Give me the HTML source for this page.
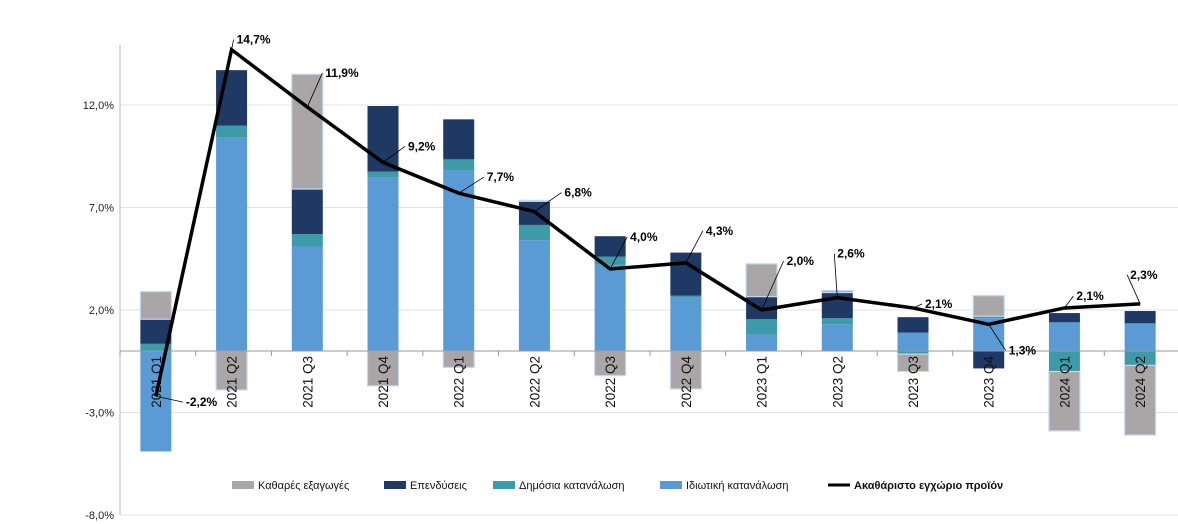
<!DOCTYPE html>
<html><head><meta charset="utf-8"><style>
body{margin:0;background:#fff;}
svg{display:block;font-family:"Liberation Sans","DejaVu Sans",sans-serif;}
</style></head><body>
<svg id="chart" width="1178" height="524" viewBox="0 0 1178 524" xmlns="http://www.w3.org/2000/svg">
<g id="grid"></g>
<g id="bars"></g>
<g id="axes"></g>
<g id="line"></g>
<g id="legend"></g>
</svg>
<script>
const categories=["2021 Q1","2021 Q2","2021 Q3","2021 Q4","2022 Q1","2022 Q2","2022 Q3","2022 Q4","2023 Q1","2023 Q2","2023 Q3","2023 Q4","2024 Q1","2024 Q2"];
const privateCons=[-4.9,10.4,5.1,8.45,8.8,5.4,4.2,2.6,0.8,1.3,0.9,1.6,1.4,1.35];
const publicCons=[0.35,0.6,0.6,0.3,0.55,0.75,0.4,0.1,0.75,0.3,-0.15,0.1,-1.0,-0.7];
const investment=[1.2,2.7,2.2,3.2,1.95,1.15,1.0,2.1,1.1,1.25,0.75,-0.85,0.45,0.6];
const netExports=[1.35,-1.9,5.6,-1.7,-0.8,0.05,-1.2,-1.85,1.6,0.1,-0.85,1.0,-2.9,-3.4];
const gdp=[-2.2,14.7,11.9,9.2,7.7,6.8,4.0,4.3,2.0,2.6,2.1,1.3,2.1,2.3];
const gdpLabels=["-2,2%","14,7%","11,9%","9,2%","7,7%","6,8%","4,0%","4,3%","2,0%","2,6%","2,1%","1,3%","2,1%","2,3%"];
const yTicks=[-8,-3,2,7,12];
const yTickLabels=["-8,0%","-3,0%","2,0%","7,0%","12,0%"];
const seriesNames=["Καθαρές εξαγωγές","Επενδύσεις","Δημόσια κατανάλωση","Ιδιωτική κατανάλωση","Ακαθάριστο εγχώριο προϊόν"];

const NS="http://www.w3.org/2000/svg";
const X0=120,X1=1180,Y0=351,PX=20.5;
const band=(X1-X0)/categories.length;
const y=v=>Y0-v*PX;
const xc=i=>X0+band*i+band/2-2;
function mk(tag,attrs,parent){const e=document.createElementNS(NS,tag);for(const k in attrs)e.setAttribute(k,attrs[k]);parent.appendChild(e);return e;}
const grid=document.getElementById('grid'),bars=document.getElementById('bars'),axes=document.getElementById('axes'),line=document.getElementById('line'),legend=document.getElementById('legend');

yTicks.forEach((t,i)=>{
  const g=mk('line',{x1:X0,x2:1178,y1:y(t),y2:y(t),stroke:'#e3e3e3','stroke-width':1},grid);
  
  
  const tl=mk('text',{x:X0-6,y:y(t)+4,'text-anchor':'end','font-size':11,fill:'#222'},axes);
  tl.textContent=yTickLabels[i];
  
  
});
const ya=mk('line',{x1:X0,x2:X0,y1:45,y2:515,stroke:'#bbb'},axes);



const series=[
 {vals:privateCons,color:'#5b9bd5',name:'private-consumption'},
 {vals:publicCons,color:'#3d9aa8',name:'public-consumption'},
 {vals:investment,color:'#1f3864',name:'investment'},
 {vals:netExports,color:'#aaa6a7',name:'net-exports'}
];
const bw=31;
categories.forEach((c,i)=>{
  let pos=0,neg=0;
  series.forEach(s=>{
    const v=s.vals[i];let a,b;
    if(v>=0){a=pos;b=pos+v;pos=b;}else{a=neg;b=neg+v;neg=b;}
    const top=y(Math.max(a,b)),h=Math.abs(y(a)-y(b));
    const r=mk('rect',{x:xc(i)-bw/2,y:top,width:bw,height:h,fill:s.color},bars);
    if(s.name==='net-exports'){r.setAttribute('stroke','#c5d9f1');r.setAttribute('stroke-width','1.2');}
    
    
  });
});
const xa=mk('line',{x1:X0,x2:1178,y1:Y0,y2:Y0,stroke:'#999'},axes);


for(let i=0;i<=categories.length;i++){
  const t=mk('line',{x1:X0+band*i,x2:X0+band*i,y1:Y0,y2:Y0+5,stroke:'#999'},axes);
  
  
}
categories.forEach((c,i)=>{
  const t=mk('text',{x:0,y:0,'text-anchor':'end','font-size':13.5,fill:'#111',transform:`translate(${xc(i)+5},356) rotate(-90)`},axes);
  t.textContent=c;
  
  
});

const pts=gdp.map((v,i)=>xc(i)+','+y(v)).join(' ');
const pl=mk('polyline',{points:pts,fill:'none',stroke:'#000','stroke-width':3.5,'stroke-linejoin':'miter'},line);


const off=[[30,10],[5,-6],[18,-30],[25,-12],[28,-12],[30,-15],[20,-28],[20,-28],[25,-45],[0,-40],[12,0],[20,30],[12,-8],[-10,-25]];
gdp.forEach((v,i)=>{
  const px=xc(i),py=y(v),dx=off[i][0],dy=off[i][1];
  const ll=mk('line',{x1:px,y1:py,x2:px+dx-3,y2:py+dy-4,stroke:'#000','stroke-width':0.8},line);
  
  
  const t=mk('text',{x:px+dx,y:py+dy,'font-size':12,'font-weight':'bold',fill:'#000'},line);
  t.textContent=gdpLabels[i];
  
  
});

const legItems=[{c:'#aaa6a7',x:232},{c:'#1f3864',x:384},{c:'#3d9aa8',x:493},{c:'#5b9bd5',x:660},{c:'line',x:828}];
legItems.forEach((it,i)=>{
  let m;
  if(it.c==='line'){m=mk('line',{x1:it.x,x2:it.x+22,y1:485,y2:485,stroke:'#000','stroke-width':3},legend);}
  else{m=mk('rect',{x:it.x,y:481,width:22,height:8,fill:it.c},legend);}
  
  
  const t=mk('text',{x:it.x+26,y:489,'font-size':11,fill:'#111'},legend);
  if(i===4)t.setAttribute('font-weight','bold');
  t.textContent=seriesNames[i];
  
  
});
</script>
</body></html>
